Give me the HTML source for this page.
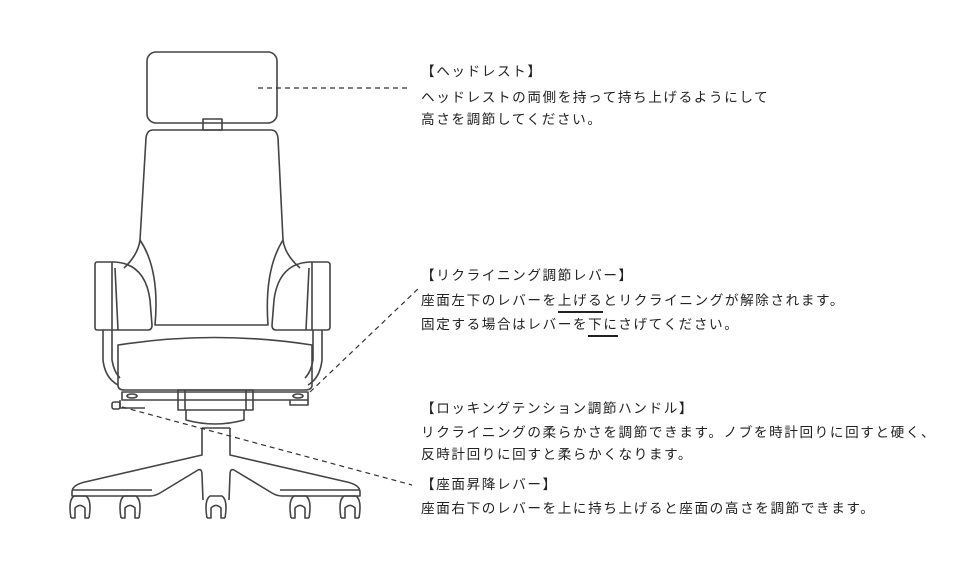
<!DOCTYPE html>
<html><head><meta charset="utf-8"><style>
body{margin:0;background:#fff;width:960px;height:562px;overflow:hidden;position:relative;font-family:"Liberation Sans","Noto Sans CJK JP",sans-serif;color:#222}
.t{position:absolute;left:421px;font-size:13.6px;letter-spacing:1.6px;white-space:nowrap;line-height:16px}
u{text-decoration:none;border-bottom:2px solid #222;padding-bottom:3px}
</style></head><body>
<svg width="960" height="562" style="position:absolute;left:0;top:0" fill="none" stroke="#444" stroke-width="1.6" stroke-linejoin="round">
<defs><g id="c"><path d="M-9 518 Q-12 500 -6 496 L6 496 Q12 500 9 518 M-9 518 L-5 518 L-5 508 Q0 503 5 508 L5 518 L9 518"/></g></defs>
<!-- headrest -->
<rect x="147" y="52" width="130" height="71" rx="9"/>
<rect x="203" y="119" width="19" height="11"/>
<!-- backrest -->
<path d="M153 130 L271 130 Q277 130 278 138 L283 240 Q285 255 300 268"/>
<path d="M153 130 Q147 130 146 138 L140 240 Q138 255 124 268"/>
<path d="M140 240 Q160 270 155 325 L268 325 Q264 270 283 240"/>
<!-- armrests -->
<path d="M97 262 L112 262 L112 330 L97 330 Q95 330 95 327 L95 265 Q95 262 97 262Z"/>
<path d="M112 262 Q145 262 150 300 L152 325 Q152 330 148 330 L112 330"/>
<path d="M115 268 L118 330"/>
<path d="M327 262 L312 262 L312 330 L327 330 Q330 330 330 327 L330 265 Q330 262 327 262Z"/>
<path d="M312 262 Q279 262 274 300 L272 325 Q272 330 276 330 L312 330"/>
<path d="M309 268 L306 330"/>
<!-- seat frame -->
<path d="M103 330 L103 360 Q105 378 118 385"/>
<path d="M322 330 L322 360 Q320 378 308 385"/>
<path d="M112 330 L112 360 Q114 372 120 378"/>
<path d="M313 330 L313 360 Q311 372 305 378"/>
<path d="M118 345 Q215 330 312 345 L312 385 Q312 390 305 390 L124 390 Q118 390 118 385Z"/>
<!-- under plate -->
<path d="M122 392 L308 392 L308 400 L122 400Z"/>
<rect x="112" y="402" width="8" height="7" rx="2"/>
<path d="M120 400 L120 408 L145 408"/>
<path d="M290 400 L290 405 L308 405 L308 400"/>
<ellipse cx="132" cy="396" rx="5" ry="2"/><ellipse cx="298" cy="396" rx="5" ry="2"/>
<rect x="178" y="390" width="75" height="20"/>
<path d="M185 390 L185 410 M246 390 L246 410"/>
<path d="M186 410 L186 420 Q215 428 244 420 L244 410"/>
<!-- base -->
<path d="M202 428 L230 428"/>
<path d="M202 428 L202 455 L85 482 Q72 485 72 492 L72 496 L150 496 Q155 496 160 493 L198 470 Q202 468 202 475 L203 500"/>
<path d="M230 428 L230 455 L347 482 Q360 485 360 492 L360 496 L282 496 Q277 496 272 493 L234 470 Q230 468 230 475 L229 500"/>
<path d="M72 490 L152 490 M280 490 L360 490"/>
<!-- casters -->
<use href="#c" x="80"/><use href="#c" x="130"/><use href="#c" x="216"/><use href="#c" x="300"/><use href="#c" x="350"/>
<!-- leaders -->
<g stroke="#333" stroke-width="1.2" stroke-dasharray="5 4">
<path d="M258 88 L410 88"/>
<path d="M310 392 L420 287"/>
<path d="M122 407 L412 485"/>
</g>
</svg>
<div class="t" style="top:64px">【ヘッドレスト】</div>
<div class="t" style="top:90px">ヘッドレストの両側を持って持ち上げるようにして</div>
<div class="t" style="top:112px">高さを調節してください。</div>
<div class="t" style="top:268px">【リクライニング調節レバー】</div>
<div class="t" style="top:293px">座面左下のレバーを<u>上げる</u>とリクライニングが解除されます。</div>
<div class="t" style="top:317px">固定する場合はレバーを<u>下に</u>さげてください。</div>
<div class="t" style="top:401px">【ロッキングテンション調節ハンドル】</div>
<div class="t" style="top:425px">リクライニングの柔らかさを調節できます。ノブを時計回りに回すと硬く、</div>
<div class="t" style="top:447px">反時計回りに回すと柔らかくなります。</div>
<div class="t" style="top:477px">【座面昇降レバー】</div>
<div class="t" style="top:501px">座面右下のレバーを上に持ち上げると座面の高さを調節できます。</div>
</body></html>
